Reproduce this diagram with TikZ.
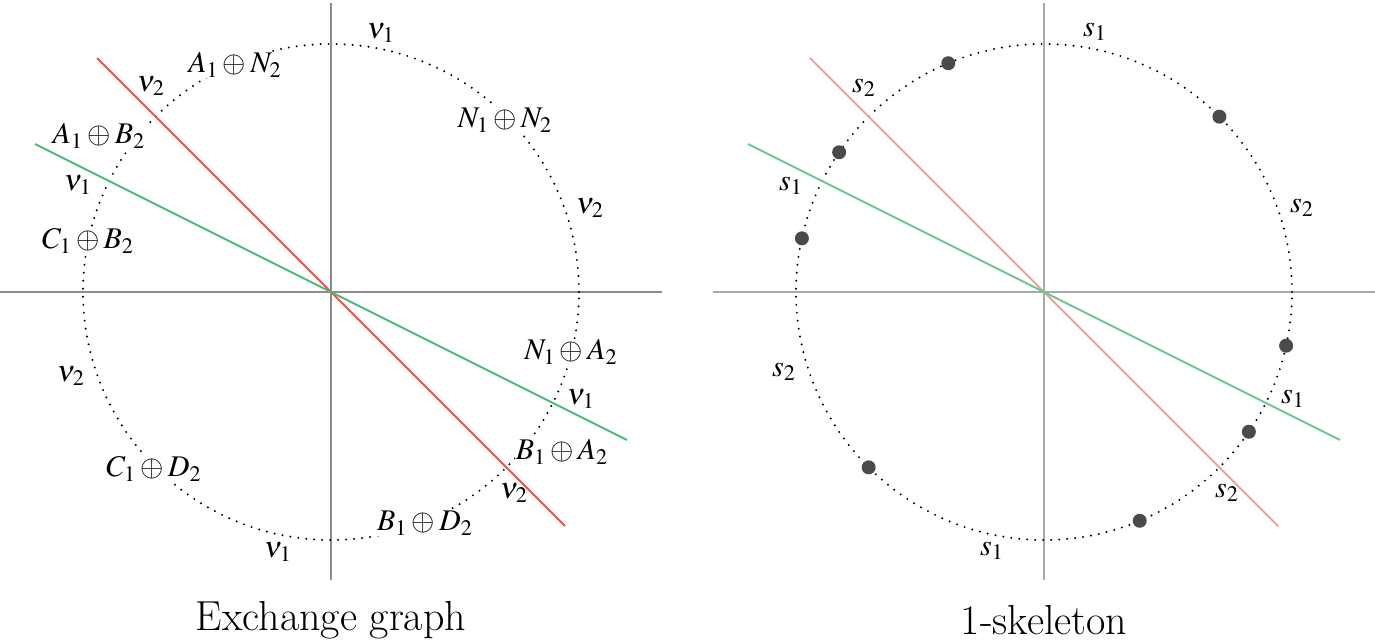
\documentclass[tikz,border=0pt]{standalone}
\usepackage{mathptmx}
\usetikzlibrary{calc}
\definecolor{axisL}{HTML}{8C8C8C}
\definecolor{axisR}{HTML}{AAAAAA}
\definecolor{redL}{HTML}{E8564A}
\definecolor{greenL}{HTML}{4CB87C}
\definecolor{redR}{HTML}{F4A09A}
\definecolor{greenR}{HTML}{6CC48E}
\definecolor{dotc}{HTML}{4A4A4A}
\begin{document}
\begin{tikzpicture}[x=0.5pt,y=-0.5pt,
  axisline/.style={line width=1pt},
  ring/.style={line width=1.1pt, line cap=round, dash pattern=on 0pt off 4pt},
  seg/.style={line width=1pt},
  lbl/.style={inner sep=0.5pt, font=\fontsize{15}{18}\selectfont},
  vlbl/.style={lbl, fill=white},
  vert/.style={circle, fill=dotc, inner sep=0pt, minimum size=7pt},
  captxt/.style={font=\fontsize{21}{25}\selectfont}]
\useasboundingbox (0,0) rectangle (1375,642);
% ---------- left: exchange graph ----------
\coordinate (L) at (331,292);
\coordinate (Lax1) at (0,292); \coordinate (Lax2) at (662,292);
\coordinate (Lay1) at (331,3); \coordinate (Lay2) at (331,580);
\coordinate (Lr1) at (97,58); \coordinate (Lr2) at (565,526);
\coordinate (Lg1) at (35,144); \coordinate (Lg2) at (627,440);
\draw[axisline, axisL] (Lax1) -- (Lax2);
\draw[axisline, axisL] (Lay1) -- (Lay2);
\draw[ring] (L) circle[radius=124pt];
\draw[seg, redL] (Lr1) -- (Lr2);
\draw[seg, greenL] (Lg1) -- (Lg2);
\node[vlbl] (an) at (235,65) {$A_1\oplus N_2$};
\node[vlbl] (ab) at (99,136) {$A_1\oplus B_2$};
\node[vlbl] (cb) at (88,241) {$C_1\oplus B_2$};
\node[vlbl] (nn) at (505,120) {$N_1\oplus N_2$};
\node[vlbl] (na) at (571,352) {$N_1\oplus A_2$};
\node[vlbl] (ba) at (562,452) {$B_1\oplus A_2$};
\node[vlbl] (bd) at (425,523) {$B_1\oplus D_2$};
\node[vlbl] (cd) at (154,469) {$C_1\oplus D_2$};
\node[lbl] (n1a) at (381,33) {$\nu_1$};
\node[lbl] (n2a) at (151,86) {$\nu_2$};
\node[lbl] (n1b) at (78,185) {$\nu_1$};
\node[lbl] (n2b) at (590,208) {$\nu_2$};
\node[lbl] (n2c) at (71,376) {$\nu_2$};
\node[lbl] (n1c) at (278,552) {$\nu_1$};
\node[lbl] (n2d) at (514,493) {$\nu_2$};
\node[lbl] (n1d) at (581,399) {$\nu_1$};
\node[captxt] (capL) at (331,620) {Exchange graph};
% ---------- right: 1-skeleton ----------
\coordinate (R) at (1044,292);
\coordinate (Rax1) at (713,292); \coordinate (Rax2) at (1375,292);
\coordinate (Ray1) at (1044,3); \coordinate (Ray2) at (1044,580);
\coordinate (Rr1) at (810,58); \coordinate (Rr2) at (1278,526);
\coordinate (Rg1) at (748,144); \coordinate (Rg2) at (1340,440);
\draw[axisline, axisR] (Rax1) -- (Rax2);
\draw[axisline, axisR] (Ray1) -- (Ray2);
\draw[ring] (R) circle[radius=124pt];
\draw[seg, redR] (Rr1) -- (Rr2);
\draw[seg, greenR] (Rg1) -- (Rg2);
\foreach \a/\n in {112.7/p1, 145.7/p2, 167.5/p3, 45/p4, -67.3/p5, -34.3/p6, -12.5/p7, -135/p8}
  \node[vert] (\n) at ($(R)+(\a:124pt)$) {};
\node[lbl] (s1a) at (1095,32) {$s_1$};
\node[lbl] (s2a) at (864,88) {$s_2$};
\node[lbl] (s1b) at (791,186) {$s_1$};
\node[lbl] (s2b) at (1302,208) {$s_2$};
\node[lbl] (s2c) at (784,372) {$s_2$};
\node[lbl] (s1c) at (992,551) {$s_1$};
\node[lbl] (s1d) at (1293,399) {$s_1$};
\node[lbl] (s2d) at (1227,493) {$s_2$};
\node[captxt] (capR) at (1044,620) {1-skeleton};
\end{tikzpicture}
\end{document}
